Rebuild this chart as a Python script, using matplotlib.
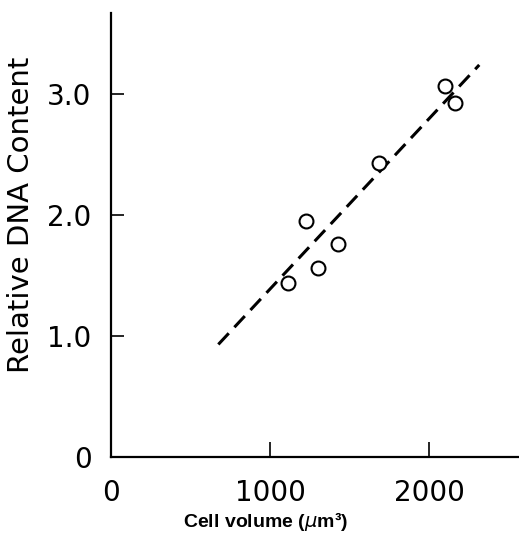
import matplotlib.pyplot as plt

# data
cell_volume = [1115, 1224, 1304, 1426, 1686, 2101, 2164]
dna_content = [1.44, 1.95, 1.56, 1.76, 2.43, 3.07, 2.93]

fit_slope = 0.001408
fit_intercept = -0.02
fit_x = [675, 2316]

x_ticks = [0, 1000, 2000]
x_ticklabels = ["0", "1000", "2000"]
y_ticks = [0, 1.0, 2.0, 3.0]
y_ticklabels = ["0", "1.0", "2.0", "3.0"]

fig = plt.figure(figsize=(5.19, 5.34), dpi=100)
ax = fig.add_axes([111 / 519, 77 / 534, 408 / 519, 444 / 534])

fit_y = [fit_slope * x + fit_intercept for x in fit_x]
ax.plot(fit_x, fit_y, color="black", linewidth=2.2, linestyle=(0, (5, 2.7)),
        solid_capstyle="butt", dash_capstyle="butt")
ax.plot(cell_volume, dna_content, linestyle="none", marker="o", markersize=10,
        markerfacecolor="white", markeredgecolor="black", markeredgewidth=1.5)

ax.set_xlim(0, 2566)
ax.set_ylim(0, 3.67)

for side in ("top", "right"):
    ax.spines[side].set_visible(False)
for side in ("left", "bottom"):
    ax.spines[side].set_linewidth(1.6)

tick_font = dict(family="DejaVu Sans", size=20, color="black")
ax.set_xticks(x_ticks)
ax.set_xticklabels(x_ticklabels, fontdict=tick_font)
ax.set_yticks(y_ticks)
ax.set_yticklabels(y_ticklabels, fontdict=tick_font)
ax.tick_params(direction="in", length=9, width=1.2)
ax.tick_params(axis="x", length=11, pad=16)
ax.tick_params(axis="y", pad=14)

ax.set_ylabel("Relative DNA Content", family="DejaVu Sans", fontsize=21, color="black")
ax.yaxis.set_label_coords(-0.186, 0.545)
ax.set_xlabel("Cell volume ($\\mu$m³)", family="Liberation Sans", weight="bold",
              fontsize=14, color="black")
ax.xaxis.set_label_coords(0.38, -0.12)

fig.savefig("out.png", dpi=100)
